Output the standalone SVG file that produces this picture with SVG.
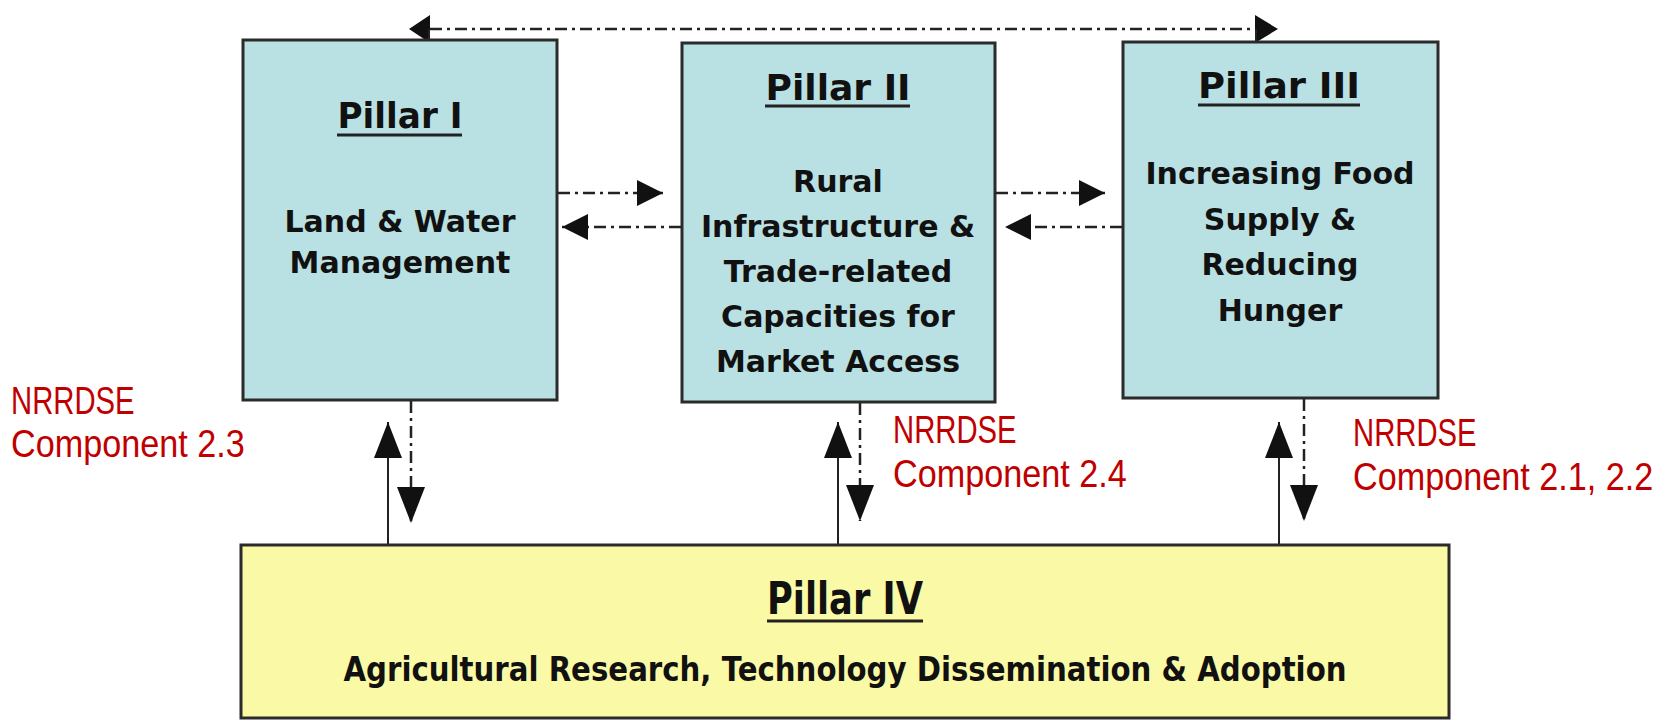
<svg xmlns="http://www.w3.org/2000/svg" width="1671" height="721" viewBox="0 0 1671 721">
<style>
.box{fill:#B9E1E3;stroke:#2b2b2b;stroke-width:3}
.ybox{fill:#FAF9A6;stroke:#2b2b2b;stroke-width:3}
.t{font-family:"DejaVu Sans",Verdana,sans-serif;font-weight:bold;fill:#111;text-anchor:middle}
.title{font-size:36px}
.body{font-size:30px}
.ul{stroke:#222;stroke-width:3}
.red{font-family:"Liberation Sans",Arial,sans-serif;font-size:38px;fill:#C00000}
.dd{stroke:#222;stroke-width:2.5;fill:none;stroke-dasharray:12 5 3 5}
.sl{stroke:#222;stroke-width:2;fill:none}
.hd{fill:#111}
</style>
<defs>
<marker id="ah" viewBox="0 0 26 26" refX="26" refY="13" markerWidth="26" markerHeight="26" markerUnits="userSpaceOnUse" orient="auto"><path d="M0,0 L26,13 L0,26 z" fill="#111"/></marker>
<marker id="av" viewBox="0 0 36 28" refX="36" refY="14" markerWidth="36" markerHeight="28" markerUnits="userSpaceOnUse" orient="auto"><path d="M0,0 L36,14 L0,28 z" fill="#111"/></marker>
</defs>

<g id="connectors">
<line class="dd" x1="430" y1="29" x2="1253" y2="29"/>
<polygon class="hd" points="409,29 430,15 430,43"/>
<line class="sl" x1="429" y1="29" x2="429" y2="40"/>
<polygon class="hd" points="1278,29 1255,15 1255,43"/>
<line class="sl" x1="1256" y1="29" x2="1256" y2="42"/>

<line class="dd" x1="558" y1="193" x2="663" y2="193" marker-end="url(#ah)"/>
<line class="dd" x1="681" y1="227" x2="562" y2="227" marker-end="url(#ah)"/>
<line class="dd" x1="996" y1="193" x2="1105" y2="193" marker-end="url(#ah)"/>
<line class="dd" x1="1122" y1="227" x2="1005" y2="227" marker-end="url(#ah)"/>

<line class="sl" x1="388" y1="545" x2="388" y2="422" marker-end="url(#av)"/>
<line class="dd" x1="411" y1="401" x2="411" y2="523" marker-end="url(#av)"/>
<line class="sl" x1="838" y1="545" x2="838" y2="422" marker-end="url(#av)"/>
<line class="dd" x1="860" y1="403" x2="860" y2="521" marker-end="url(#av)"/>
<line class="sl" x1="1279" y1="545" x2="1279" y2="422" marker-end="url(#av)"/>
<line class="dd" x1="1304" y1="399" x2="1304" y2="521" marker-end="url(#av)"/>
</g>

<g id="pillar1">
<rect class="box" x="243" y="40" width="314" height="360"/>
<text class="t title" x="400" y="128" textLength="125" lengthAdjust="spacingAndGlyphs">Pillar I</text>
<line class="ul" x1="337" y1="135" x2="462" y2="135"/>
<text class="t body" x="400" y="232">Land &amp; Water</text>
<text class="t body" x="400" y="273">Management</text>
</g>

<g id="pillar2">
<rect class="box" x="682" y="43" width="313" height="359"/>
<text class="t title" x="838" y="100" textLength="145" lengthAdjust="spacingAndGlyphs">Pillar II</text>
<line class="ul" x1="765" y1="106" x2="910" y2="106"/>
<text class="t body" x="838" y="192">Rural</text>
<text class="t body" x="838" y="237">Infrastructure &amp;</text>
<text class="t body" x="838" y="282">Trade-related</text>
<text class="t body" x="838" y="327">Capacities for</text>
<text class="t body" x="838" y="372">Market Access</text>
</g>

<g id="pillar3">
<rect class="box" x="1123" y="42" width="315" height="356"/>
<text class="t title" x="1279" y="98" textLength="162" lengthAdjust="spacingAndGlyphs">Pillar III</text>
<line class="ul" x1="1198" y1="105" x2="1360" y2="105"/>
<text class="t body" x="1280" y="184">Increasing Food</text>
<text class="t body" x="1280" y="230">Supply &amp;</text>
<text class="t body" x="1280" y="275">Reducing</text>
<text class="t body" x="1280" y="321">Hunger</text>
</g>

<g id="pillar4">
<rect class="ybox" x="241" y="545" width="1208" height="173"/>
<text class="t" x="845" y="614" font-size="44" textLength="156" lengthAdjust="spacingAndGlyphs">Pillar IV</text>
<line class="ul" x1="767" y1="621" x2="923" y2="621"/>
<text class="t" x="845" y="681" font-size="34" textLength="1003" lengthAdjust="spacingAndGlyphs">Agricultural Research, Technology Dissemination &amp; Adoption</text>
</g>

<g id="labels">
<text class="red" transform="translate(11,414) scale(0.77,1)">NRRDSE</text>
<text class="red" transform="translate(11,457) scale(0.9,1)">Component 2.3</text>
<text class="red" transform="translate(893,443) scale(0.77,1)">NRRDSE</text>
<text class="red" transform="translate(893,487) scale(0.9,1)">Component 2.4</text>
<text class="red" transform="translate(1353,446) scale(0.77,1)">NRRDSE</text>
<text class="red" transform="translate(1353,490) scale(0.9,1)">Component 2.1, 2.2</text>
</g>
</svg>
